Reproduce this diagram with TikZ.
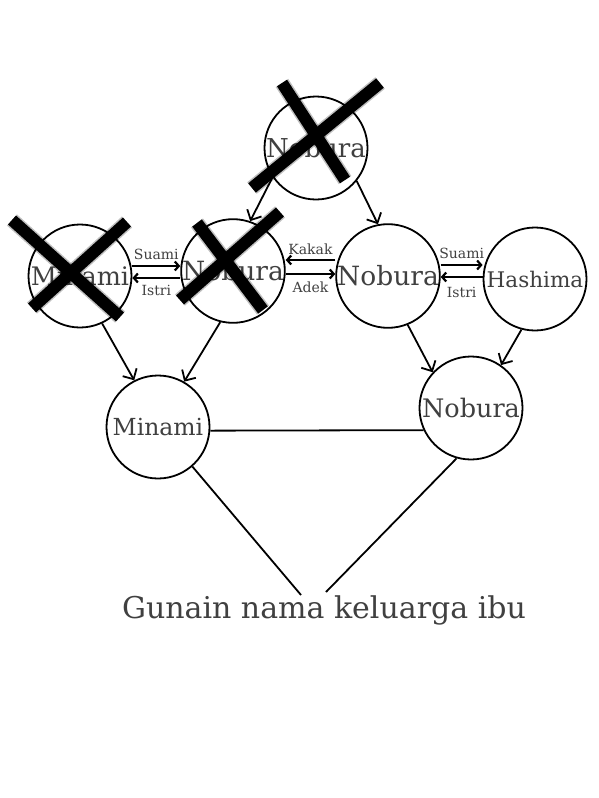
\documentclass[tikz,border=0pt]{standalone}
\usepackage{fontspec}
\setmainfont{DejaVu Serif}
\usetikzlibrary{arrows.meta, calc}

\begin{document}
\begin{tikzpicture}[x=1pt, y=-1pt,
  person/.style={circle, draw, line width=1.8pt, minimum size=103pt, inner sep=0pt, text=black!75},
  link/.style={line width=1.8pt, -{Straight Barb[length=8pt, width=16pt]}},
  pair/.style={line width=2.2pt, -{Straight Barb[length=4pt, width=9pt]}},
  tag/.style={text=black!75, font=\fontsize{14}{16}\selectfont, inner sep=1pt},
  cross/.style={line width=12pt, black}]
\useasboundingbox (0,0) rectangle (598,798);

% Generasi atas
\node[person, font=\fontsize{26}{30}\selectfont] (topN) at (316,148) {Nobura};

% Generasi tengah
\node[person, font=\fontsize{25.5}{30}\selectfont] (minL) at (80,276) {Minami};
\node[person, font=\fontsize{26.5}{30}\selectfont] (nobX) at (233,271) {Nobura};
\node[person, font=\fontsize{26.5}{30}\selectfont] (nobM) at (388,276) {Nobura};
\node[person, font=\fontsize{21.5}{26}\selectfont] (hash) at (535,279) {Hashima};

% Generasi bawah
\node[person, font=\fontsize{23.5}{28}\selectfont] (minB) at (158,427) {Minami};
\node[person, font=\fontsize{25.5}{30}\selectfont] (nobB) at (471,408) {Nobura};

\node[anchor=base, text=black!75, font=\fontsize{30}{36}\selectfont] (note) at (324,618) {Gunain nama keluarga ibu};
\coordinate (noteL) at (301,595);
\coordinate (noteR) at (326,592);

% Anak
\draw[link] (topN.214) -- (nobX.71);
\draw[link] (topN.321) -- (nobM.101);
\draw[link] (minL.295) -- (minB.117);
\draw[link] (nobX.256) -- (minB.60);
\draw[link] (nobM.292) -- (nobB.137);
\draw[link] (hash.255) -- (nobB.55);

% Hubungan
\draw[pair] ([yshift=10pt]minL.east) -- node[tag, above=4pt] {Suami} ([yshift=5pt]nobX.west);
\draw[pair] ([yshift=-7pt]nobX.west) -- node[tag, below=5pt] {Istri} ([yshift=-2pt]minL.east);
\draw[pair] ([yshift=16pt]nobM.west) -- node[tag, above=3pt] {Kakak} ([yshift=11pt]nobX.east);
\draw[pair] ([yshift=-3pt]nobX.east) -- node[tag, below=6pt] {Adek} ([yshift=2pt]nobM.west);
\draw[pair] ([yshift=11pt]nobM.east) -- node[tag, above=4pt] {Suami} ([yshift=14pt]hash.west);
\draw[pair] ([yshift=2pt]hash.west) -- node[tag, below=8pt] {Istri} ([yshift=-1pt]nobM.east);

\draw[line width=1.8pt] (minB.356) -- (nobB.205);
\draw[line width=1.8pt] (minB.311) -- (noteL);
\draw[line width=1.8pt] (nobB.254) -- (noteR);

% Coretan
\foreach \xa/\ya/\xb/\yb in {12/220/120/317, 127/222/32/308,
    197/223/263/310, 280/212/180/300,
    282/83/345/180, 380/83/252/188}
{
  \draw[cross, line width=15pt, opacity=0.25] (\xa,\ya) -- (\xb,\yb);
  \draw[cross] (\xa,\ya) -- (\xb,\yb);
}
\end{tikzpicture}
\end{document}
